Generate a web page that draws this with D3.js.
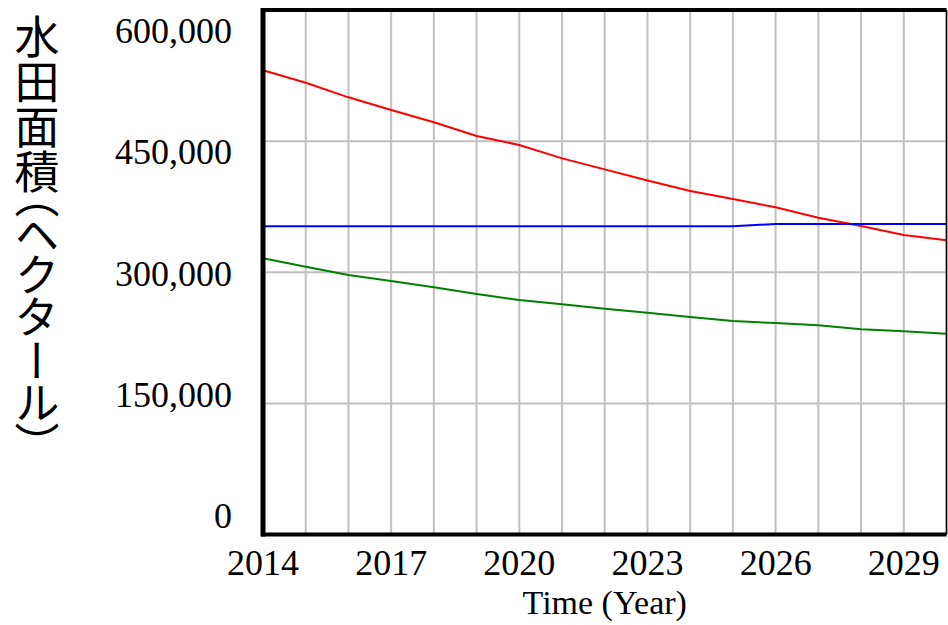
<!DOCTYPE html>
<html>
<head>
<meta charset="utf-8">
<script src="https://cdn.jsdelivr.net/npm/d3@7"></script>
<style>
  body { margin: 0; background: #fff; }
  svg { display: block; }
</style>
</head>
<body>
<div id="chart"></div>
<script>

// years on the time axis
var years = d3.range(2014, 2031);

// paddy field area (ha)
var redSeries = [531000, 516800, 500100, 485600, 471500, 455800, 445600, 430300, 417700,
                 405000, 393000, 383800, 374300, 362400, 352900, 342600, 336500];
var blueSeries = [352600, 352600, 352600, 352600, 352600, 352600, 352600, 352600, 352600,
                  352600, 352600, 352600, 355200, 355200, 355200, 355200, 355200];
var greenSeries = [316000, 306300, 296900, 290000, 282800, 275100, 268300, 263300, 258300,
                   253700, 248800, 244200, 241900, 239300, 234700, 232400, 229700];

var yTicks = [0, 150000, 300000, 450000, 600000];
var xTickYears = [2014, 2017, 2020, 2023, 2026, 2029];

var yTitle = "水田面積（ヘクタール）";
var xTitle = "Time (Year)";

var width = 948, height = 625;
var serif = "'Liberation Serif', 'Times New Roman', serif";

var svg = d3.select("#chart").append("svg")
    .attr("width", width)
    .attr("height", height);

var x = d3.scaleLinear().domain([2014, 2030]).range([263, 946.5]);
var y = d3.scaleLinear().domain([0, 600000]).range([534.5, 10]);

// tick labels sit on their own spacing, like the original tool draws them
var yLabel = d3.scaleLinear().domain([0, 600000]).range([528, 43]);

// grid
svg.append("g").selectAll("line.v")
    .data(years)
    .enter().append("line")
    .attr("x1", d => x(d)).attr("x2", d => x(d))
    .attr("y1", y(600000)).attr("y2", y(0))
    .attr("stroke", "#c0c0c0")
    .attr("stroke-width", 2);

svg.append("g").selectAll("line.h")
    .data(yTicks)
    .enter().append("line")
    .attr("x1", x(2014)).attr("x2", x(2030))
    .attr("y1", d => y(d)).attr("y2", d => y(d))
    .attr("stroke", "#c0c0c0")
    .attr("stroke-width", 2);

// series lines
var line = d3.line()
    .x((d, i) => x(years[i]))
    .y(d => y(d));

[[redSeries, "#ff0000"], [blueSeries, "#0000ff"], [greenSeries, "#008000"]].forEach(function(s) {
    svg.append("path")
        .datum(s[0])
        .attr("d", line)
        .attr("fill", "none")
        .attr("stroke", s[1])
        .attr("stroke-width", 2);
});

// frame
svg.append("line") // top
    .attr("x1", x(2014) - 2).attr("x2", x(2030))
    .attr("y1", y(600000)).attr("y2", y(600000))
    .attr("stroke", "#000").attr("stroke-width", 4);
svg.append("line") // bottom
    .attr("x1", x(2014) - 2).attr("x2", x(2030))
    .attr("y1", y(0)).attr("y2", y(0))
    .attr("stroke", "#000").attr("stroke-width", 4);
svg.append("line") // left
    .attr("x1", x(2014)).attr("x2", x(2014))
    .attr("y1", y(600000) - 2).attr("y2", y(0) + 2)
    .attr("stroke", "#000").attr("stroke-width", 5);
svg.append("line") // right
    .attr("x1", x(2030)).attr("x2", x(2030))
    .attr("y1", y(600000)).attr("y2", y(0))
    .attr("stroke", "#000").attr("stroke-width", 1.5);

// y tick labels
svg.append("g").selectAll("text")
    .data(yTicks)
    .enter().append("text")
    .attr("x", 232)
    .attr("y", d => yLabel(d))
    .attr("text-anchor", "end")
    .attr("font-family", serif)
    .attr("font-size", 36)
    .text(d3.format(","));

// x tick labels
svg.append("g").selectAll("text")
    .data(xTickYears)
    .enter().append("text")
    .attr("x", d => x(d))
    .attr("y", 575)
    .attr("text-anchor", "middle")
    .attr("font-family", serif)
    .attr("font-size", 36)
    .text(d => d);

// axis titles
svg.append("text")
    .attr("x", (x(2014) + x(2030)) / 2)
    .attr("y", 614)
    .attr("text-anchor", "middle")
    .attr("font-family", serif)
    .attr("font-size", 34)
    .text(xTitle);

svg.append("text")
    .attr("x", 37)
    .attr("y", 14)
    .attr("font-family", "'Noto Sans CJK JP', sans-serif")
    .attr("font-size", 45)
    .style("writing-mode", "vertical-rl")
    .style("text-orientation", "upright")
    .style("font-feature-settings", "'vpal'")
    .text(yTitle);

</script>
</body>
</html>
